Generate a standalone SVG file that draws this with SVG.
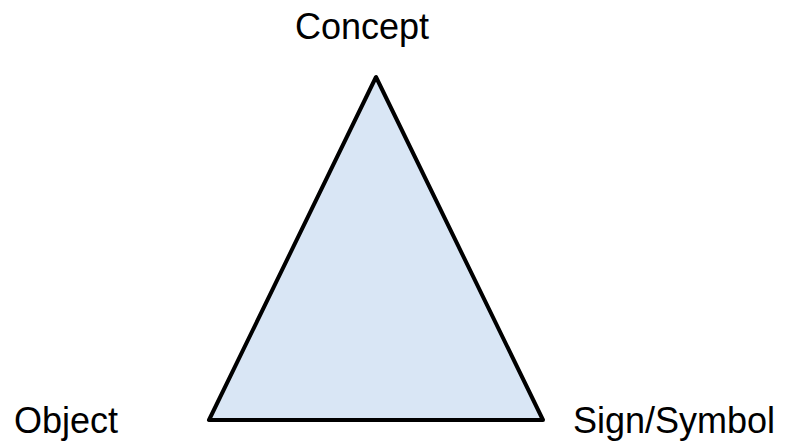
<svg xmlns="http://www.w3.org/2000/svg" width="785" height="446" viewBox="0 0 785 446">
<style>
.lbl{font-family:"Liberation Sans",Arial,sans-serif;font-size:36px;fill:#000}
</style>
<rect width="785" height="446" fill="#fff"/>
<g id="triangle">
<polygon points="376,77 209,420 543,420" fill="#d9e6f5" stroke="#000" stroke-width="4" stroke-linejoin="round"/>
</g>
<g id="concept"><text class="lbl" x="362" y="39" text-anchor="middle">Concept</text></g>
<g id="object"><text class="lbl" x="14" y="433">Object</text></g>
<g id="sign"><text class="lbl" x="573" y="433">Sign/Symbol</text></g>
</svg>
